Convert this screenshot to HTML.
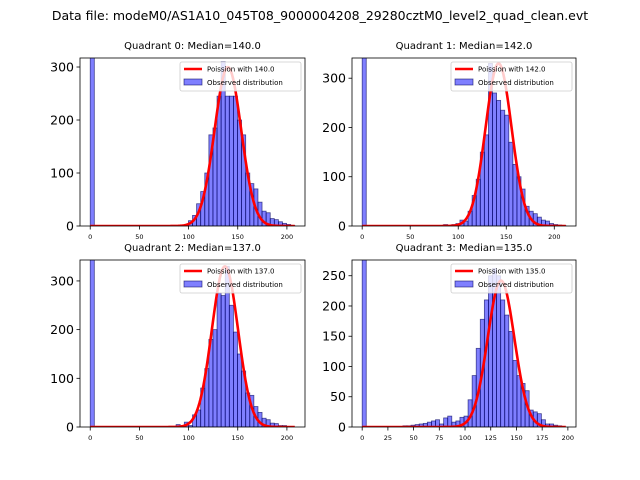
<!DOCTYPE html>
<html><head><meta charset="utf-8"><style>
body{margin:0;background:#fff;}
svg{display:block;font-family:"DejaVu Sans","Liberation Sans",sans-serif;}
</style></head><body>
<svg id="fig" width="640" height="480">
<rect width="640" height="480" fill="#fff"/>
<text x="320" y="20" font-size="12.5" text-anchor="middle">Data file: modeM0/AS1A10_045T08_9000004208_29280cztM0_level2_quad_clean.evt</text>
</svg>
<script>
const quadMedians = [140.0, 142.0, 137.0, 135.0];
const quadDataMax = [208, 212, 208, 198];
const quadYMax = [317, 341, 343, 276];
const quadYTicks = [[0,100,200,300],[0,100,200,300],[0,100,200,300],[0,50,100,150,200,250]];
const quadXTicks = [[0,50,100,150,200],[0,50,100,150,200],[0,50,100,150,200],[0,25,50,75,100,125,150,175,200]];
const curvePeaks = [300, 330, 330, 242];
const curveSigmas = [13.5, 13.5, 13.3, 13.0];
const counts0 = [1000,0,0,0,0,0,0,0,0,0,0,0,0,0,0,0,0,0,0,0,0,0,0,3,10,20,42,65,100,172,185,245,310,245,245,245,200,172,100,80,70,45,28,25,14,12,8,5,3,1];
const counts1 = [1000,0,0,0,0,0,0,0,0,0,0,0,0,0,0,0,0,0,0,0,3,1,3,5,12,10,30,62,95,150,185,330,270,255,235,225,170,125,100,75,40,30,25,18,12,10,5,3,2,1];
const counts2 = [1000,0,0,0,0,0,0,0,0,0,0,0,0,0,0,0,0,0,0,0,0,5,0,10,3,25,35,80,120,180,200,275,270,330,250,195,150,115,70,65,42,30,18,15,8,7,3,3,1,0];
const counts3 = [1000,0,0,0,0,0,0,0,0,0,2,2,3,4,5,6,8,10,12,5,15,18,8,10,16,18,45,85,130,178,210,250,262,250,210,185,158,110,85,72,60,28,25,22,12,5,5,3,2,0];
const allCounts = [counts0, counts1, counts2, counts3];

const NS = "http://www.w3.org/2000/svg";
const fig = document.getElementById('fig');
const boxes = [[80,58,225,168],[352,58,224,168],[80,260,225,167],[352,260,224,167]];
function mk(tag, attrs, parent){const e=document.createElementNS(NS,tag);for(const k in attrs)e.setAttribute(k,attrs[k]);parent.appendChild(e);return e;}

for(let q=0;q<4;q++){
  const [bx,by,bw,bh]=boxes[q];
  const dmax=quadDataMax[q], margin=dmax*0.05;
  const x0=-margin, x1=dmax+margin, ymax=quadYMax[q];
  const X=v=>bx+(v-x0)/(x1-x0)*bw;
  const Y=v=>by+bh-v/ymax*bh;
  const g=mk('g',{},fig);
  
  
  const clipId='clip'+q;
  const cp=mk('clipPath',{id:clipId},g);
  mk('rect',{x:bx,y:by,width:bw,height:bh},cp);
  const plot=mk('g',{'clip-path':'url(#'+clipId+')'},g);
  const counts=allCounts[q], n=counts.length, w=dmax/n;
  counts.forEach((c,i)=>{
    if(c<=0) return;
    const r=mk('rect',{x:X(i*w),y:Y(c),width:X((i+1)*w)-X(i*w),height:Y(0)-Y(c),fill:'rgba(0,0,255,0.5)',stroke:'rgba(0,0,90,0.65)','stroke-width':0.8},plot);
    
    
  });
  const lam=quadMedians[q], peak=curvePeaks[q], sg=curveSigmas[q];
  let d='';
  for(let k=0;k<=dmax;k++){
    const v=peak*Math.exp(-((k-lam)*(k-lam))/(2*sg*sg));
    d+=(k?'L':'M')+X(k).toFixed(2)+','+Y(v).toFixed(2);
  }
  const path=mk('path',{d:d,fill:'none',stroke:'#ff0000','stroke-width':2.6,'stroke-linejoin':'round'},plot);
  
  
  mk('rect',{x:bx,y:by,width:bw,height:bh,fill:'none',stroke:'#000','stroke-width':0.8},g);
  quadXTicks[q].forEach(t=>{
    mk('line',{x1:X(t),x2:X(t),y1:by+bh,y2:by+bh+3.5,stroke:'#000','stroke-width':0.8},g);
    const tx=mk('text',{x:X(t),y:by+bh+13,'font-size':6.5,'text-anchor':'middle'},g);
    tx.textContent=t;
    
    
  });
  quadYTicks[q].forEach(t=>{
    mk('line',{x1:bx,x2:bx-3.5,y1:Y(t),y2:Y(t),stroke:'#000','stroke-width':0.8},g);
    const tx=mk('text',{x:bx-6,y:Y(t)+4.5,'font-size':12.5,'text-anchor':'end'},g);
    tx.textContent=t;
    
    
  });
  const title=mk('text',{x:bx+bw/2,y:by-9,'font-size':10,'text-anchor':'middle'},g);
  title.textContent='Quadrant '+q+': Median='+lam.toFixed(1);
  
  
  const lg=mk('g',{},g);
  
  
  const lx=bx+bw-125, ly=by+4;
  mk('rect',{x:lx,y:ly,width:121,height:29,fill:'rgba(255,255,255,0.8)',stroke:'#ccc','stroke-width':0.8,rx:2},lg);
  mk('line',{x1:lx+4,x2:lx+22,y1:ly+7,y2:ly+7,stroke:'#ff0000','stroke-width':2.6},lg);
  const t1=mk('text',{x:lx+27,y:ly+9.5,'font-size':7},lg);
  t1.textContent='Poission with '+lam.toFixed(1);
  mk('rect',{x:lx+4,y:ly+17,width:18,height:6,fill:'rgba(0,0,255,0.5)',stroke:'rgba(0,0,90,0.65)','stroke-width':0.8},lg);
  const t2=mk('text',{x:lx+27,y:ly+23,'font-size':7},lg);
  t2.textContent='Observed distribution';
}
</script>
</body></html>
